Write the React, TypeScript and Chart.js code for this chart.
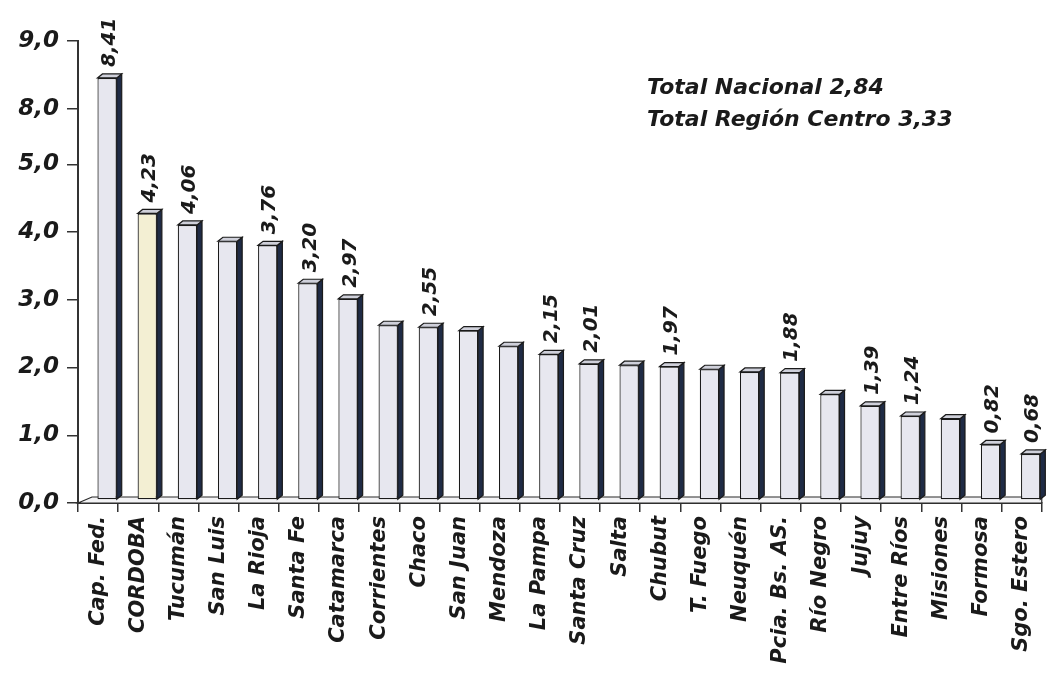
import React, { useEffect, useRef } from 'react';
import { Chart, registerables, LinearScale } from 'chart.js';

// ---------------- data ----------------
const provinces = [
  'Cap. Fed.', 'CORDOBA', 'Tucumán', 'San Luis', 'La Rioja', 'Santa Fe', 'Catamarca',
  'Corrientes', 'Chaco', 'San Juan', 'Mendoza', 'La Pampa', 'Santa Cruz', 'Salta',
  'Chubut', 'T. Fuego', 'Neuquén', 'Pcia. Bs. AS.', 'Río Negro', 'Jujuy', 'Entre Ríos',
  'Misiones', 'Formosa', 'Sgo. Estero',
];
const rates = [
  8.41, 4.23, 4.06, 3.82, 3.76, 3.20, 2.97,
  2.58, 2.55, 2.50, 2.27, 2.15, 2.01, 1.99,
  1.97, 1.93, 1.89, 1.88, 1.56, 1.39, 1.24,
  1.20, 0.82, 0.68,
];
const showValue = [
  true, true, true, false, true, true, true,
  false, true, false, false, true, true, false,
  true, false, false, true, false, true, true,
  false, true, true,
];
const yTicks = [0, 1, 2, 3, 4, 5, 8, 9];
const axisBreak = [5, 8];
const breakSpan = 0.82; // visual height (in units) of the 5 → 8 compressed segment
const notes = ['Total Nacional 2,84', 'Total Región Centro 3,33'];

// ---------------- styles ----------------
const FRONT = '#e7e7ef';
const FRONT_CORDOBA = '#f3efd3';
const SIDE = '#1f2b45';
const TOP = '#cfd0da';
const EDGE = '#1a1a1a';
const SHIFT_X = 9;
const SHIFT_Y = 3;
const DEPTH_X = 5;
const DEPTH_Y = 4;
const FLOOR_X = 14;
const FLOOR_Y = 6;
const FONT = '"DejaVu Sans", sans-serif';

const fmt = (v: number, d: number) => v.toFixed(d).replace('.', ',');

// ---------------- broken linear scale ----------------
function toDisplay(v: number) {
  const [lo, hi] = axisBreak;
  if (v <= lo) return v;
  if (v >= hi) return v - (hi - lo) + breakSpan;
  return lo + ((v - lo) * breakSpan) / (hi - lo);
}
function fromDisplay(d: number) {
  const [lo, hi] = axisBreak;
  if (d <= lo) return d;
  if (d >= lo + breakSpan) return d + (hi - lo) - breakSpan;
  return lo + ((d - lo) * (hi - lo)) / breakSpan;
}

class BrokenLinearScale extends LinearScale {
  static id = 'brokenLinear';
  static defaults = LinearScale.defaults;
  buildTicks() {
    return yTicks.map((v) => ({ value: v }));
  }
  getPixelForValue(value: number) {
    if (value === null || value === undefined || isNaN(value)) return NaN;
    const d0 = toDisplay(this.min);
    const d1 = toDisplay(this.max);
    return this.getPixelForDecimal((toDisplay(value) - d0) / (d1 - d0));
  }
  getValueForPixel(pixel: number) {
    const d0 = toDisplay(this.min);
    const d1 = toDisplay(this.max);
    return fromDisplay(d0 + this.getDecimalForPixel(pixel) * (d1 - d0));
  }
}

Chart.register(...registerables);
Chart.register(BrokenLinearScale as any);

// ---------------- 3D look plugin ----------------
const threeD = {
  id: 'threeD',
  beforeDatasetsDraw(chart: any) {
    const { ctx, chartArea: a, scales } = chart;
    const y0 = scales.y.getPixelForValue(0);
    ctx.save();
    ctx.fillStyle = '#f3f3f5';
    ctx.strokeStyle = '#2a2a2a';
    ctx.lineWidth = 1.2;
    ctx.beginPath();
    ctx.moveTo(a.left, y0);
    ctx.lineTo(a.left + FLOOR_X, y0 - FLOOR_Y);
    ctx.lineTo(a.right, y0 - FLOOR_Y);
    ctx.lineTo(a.right, y0);
    ctx.closePath();
    ctx.fill();
    ctx.stroke();
    ctx.restore();
  },
  beforeDatasetDraw(chart: any) {
    chart.ctx.save();
    chart.ctx.translate(SHIFT_X, -SHIFT_Y);
  },
  afterDatasetDraw(chart: any, args: any) {
    const ctx = chart.ctx;
    args.meta.data.forEach((el: any, i: number) => {
      const { x, y, base, width } = el.getProps(['x', 'y', 'base', 'width'], true);
      const l = x - width / 2;
      const r = x + width / 2;
      ctx.lineWidth = 1.2;
      ctx.strokeStyle = EDGE;
      // side face
      ctx.beginPath();
      ctx.moveTo(r, y);
      ctx.lineTo(r + DEPTH_X, y - DEPTH_Y);
      ctx.lineTo(r + DEPTH_X, base - DEPTH_Y);
      ctx.lineTo(r, base);
      ctx.closePath();
      ctx.fillStyle = SIDE;
      ctx.fill();
      ctx.stroke();
      // top face
      ctx.beginPath();
      ctx.moveTo(l, y);
      ctx.lineTo(l + DEPTH_X, y - DEPTH_Y);
      ctx.lineTo(r + DEPTH_X, y - DEPTH_Y);
      ctx.lineTo(r, y);
      ctx.closePath();
      ctx.fillStyle = TOP;
      ctx.fill();
      ctx.stroke();
      // value label
      if (showValue[i]) {
        ctx.save();
        ctx.translate(x + DEPTH_X / 2, y - DEPTH_Y - 7);
        ctx.rotate(-Math.PI / 2);
        ctx.font = `oblique bold 20px ${FONT}`;
        ctx.fillStyle = '#1a1a1a';
        ctx.textAlign = 'left';
        ctx.textBaseline = 'middle';
        ctx.fillText(fmt(rates[i], 2), 0, 0);
        ctx.restore();
      }
    });
    ctx.restore();
  },
  afterDraw(chart: any) {
    const ctx = chart.ctx;
    ctx.save();
    ctx.font = `oblique bold 22px ${FONT}`;
    ctx.fillStyle = '#1a1a1a';
    ctx.textAlign = 'left';
    ctx.textBaseline = 'alphabetic';
    notes.forEach((t, i) => ctx.fillText(t, 647, 94 + i * 32));
    ctx.restore();
  },
};

export default function App() {
  const ref = useRef<HTMLCanvasElement | null>(null);
  useEffect(() => {
    if (!ref.current) return;
    const chart = new Chart(ref.current, {
      type: 'bar',
      data: {
        labels: provinces,
        datasets: [
          {
            data: rates,
            backgroundColor: provinces.map((p) => (p === 'CORDOBA' ? FRONT_CORDOBA : FRONT)),
            borderColor: EDGE,
            borderWidth: 1.2,
            borderSkipped: false,
            barPercentage: 0.48,
            categoryPercentage: 1,
            clip: false as any,
          },
        ],
      },
      options: {
        animation: false,
        responsive: true,
        maintainAspectRatio: false,
        layout: { padding: { top: 41, right: 6, left: 0, bottom: 0 } },
        plugins: { legend: { display: false }, tooltip: { enabled: false }, title: { display: false } },
        scales: {
          x: {
            grid: { display: true, drawOnChartArea: false, drawTicks: true, tickLength: 9, color: '#333', lineWidth: 1.5 },
            border: { display: true, color: '#333', width: 2 },
            ticks: {
              autoSkip: false,
              maxRotation: 90,
              minRotation: 90,
              padding: 4,
              color: '#1a1a1a',
              font: { family: FONT, size: 21, weight: 'bold', style: 'oblique' as any },
            },
            afterFit: (s: any) => { s.height = 174; },
          },
          y: {
            type: 'brokenLinear' as any,
            min: 0,
            max: 9,
            grid: { display: true, drawOnChartArea: false, drawTicks: true, tickLength: 11, color: '#333', lineWidth: 1.5 },
            border: { display: true, color: '#333', width: 2 },
            ticks: {
              padding: 8,
              color: '#1a1a1a',
              font: { family: FONT, size: 23, weight: 'bold', style: 'oblique' as any },
              callback: (v: any) => fmt(Number(v), 1),
            },
            afterFit: (s: any) => { s.width = 78; },
          } as any,
        },
      },
      plugins: [threeD],
    });
    return () => chart.destroy();
  }, []);
  return (
    <div style={{ position: 'fixed', left: 0, top: 0, width: 1051, height: 677, background: '#fff' }}>
      <canvas ref={ref} />
    </div>
  );
}
